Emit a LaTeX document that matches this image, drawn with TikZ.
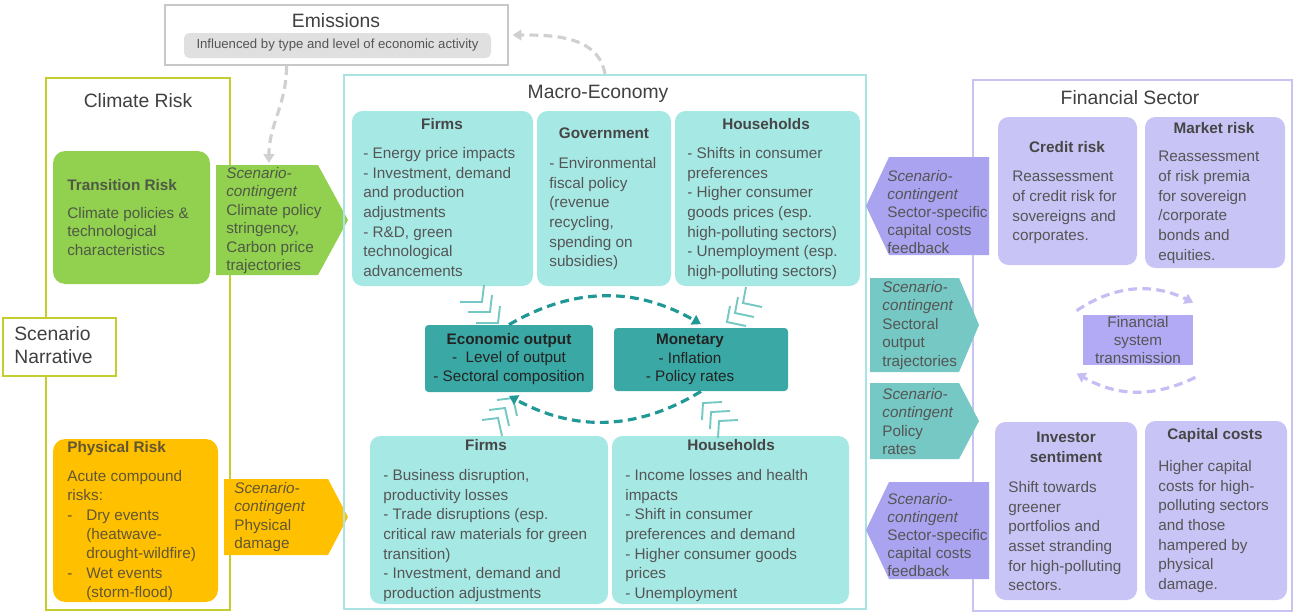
\documentclass[tikz,border=0pt]{standalone}
\usepackage{fontspec}
\setmainfont{Liberation Sans}
\usepackage{tikz}
\usetikzlibrary{fit}
\usetikzlibrary{positioning}
\usetikzlibrary{arrows.meta}
\definecolor{emframe}{RGB}{200,200,200}
\definecolor{emfill}{RGB}{224,224,224}
\definecolor{emdash}{RGB}{208,208,208}
\definecolor{crframe}{RGB}{196,205,45}
\definecolor{trgreen}{RGB}{146,208,80}
\definecolor{trtext}{RGB}{78,90,68}
\definecolor{phorange}{RGB}{255,192,0}
\definecolor{phtext}{RGB}{98,86,52}
\definecolor{meframe}{RGB}{170,228,226}
\definecolor{mebox}{RGB}{166,232,228}
\definecolor{medark}{RGB}{58,168,164}
\definecolor{meteal}{RGB}{117,200,195}
\definecolor{dkteal}{RGB}{32,152,150}
\definecolor{fsframe}{RGB}{200,196,242}
\definecolor{fsbox}{RGB}{200,196,246}
\definecolor{fsarrow}{RGB}{170,163,240}
\definecolor{fstrans}{RGB}{178,170,244}
\definecolor{fsdash}{RGB}{196,190,245}
\definecolor{txtgray}{RGB}{85,85,85}
\definecolor{hdgray}{RGB}{70,70,70}
\definecolor{ttlgray}{RGB}{64,64,64}
\definecolor{dktext}{RGB}{35,35,35}

\begin{document}
\begin{tikzpicture}[x=0.02cm,y=-0.02cm,
  frame/.style = {draw,line width=1.2pt,inner sep=0pt},
  cbox/.style = {fill=mebox,rounded corners=6pt,inner sep=0pt},
  dbox/.style = {fill=medark,rounded corners=2pt,inner sep=0pt},
  ttl/.style = {font=\fontsize{11}{13}\selectfont,text=ttlgray,inner sep=0pt},
  txt/.style = {font=\fontsize{8.7}{11.2}\selectfont,text=txtgray,align=left,
        anchor=north west,inner sep=0pt},
  tight/.style = {txt,font=\fontsize{8.7}{10.5}\selectfont},
  hd/.style = {font=\fontsize{8.7}{11.2}\selectfont\bfseries,text=hdgray,inner sep=0pt},
  flow/.style = {line width=1.8pt,dash pattern=on 5pt off 3pt,
        -{Triangle[length=5pt,width=6pt]}},
  chev/.style = {draw=meteal,line width=1.1pt}]
 \useasboundingbox (0,0) rectangle (1295,613);

 \node[frame,draw=emframe,fill=white,fit={(165,5)(508,65)}] (emis) {};
 \node[ttl] (emisT) at (336,21) {Emissions};
 \node[fill=emfill,rounded corners=3pt,inner sep=0pt,fit={(184,33)(491,58)}] (emisB) {};
 \node[font=\fontsize{7.5}{9}\selectfont,text=txtgray,inner sep=0pt] (emisL) at (emisB) {Influenced by type and level of economic activity};

 \node[frame,draw=crframe,line width=1.5pt,fit={(46,78)(230,610)}] (clim) {};
 \node[ttl] (climT) at (138,101) {Climate Risk};
 \node[cbox,fill=trgreen,rounded corners=7pt,fit={(53,151)(210,284)}] (trans) {};
 \node[hd,text=trtext,anchor=west] (transH) at (67,185) {Transition Risk};
 \node[tight,text=trtext] (transL) at (67,207) {Climate policies \&\\technological\\characteristics};
 \fill[trgreen] (216,165) -- (318,165) -- (348,220) -- (318,275) -- (216,275) -- cycle;
 \node[tight,text=trtext] (trArr) at (226,167) {\textit{Scenario-}\\\textit{contingent}\\Climate policy\\stringency,\\Carbon price\\trajectories};

 \node[frame,draw=crframe,line width=1.5pt,fill=white,fit={(3,318)(116,376)}] (narr) {};
 \node[ttl,align=left,anchor=north west] (narrT) at (14,326) {Scenario\\Narrative};

 \node[cbox,fill=phorange,rounded corners=7pt,fit={(53,439)(218,602)}] (phys) {};
 \node[hd,text=phtext,anchor=west] (physH) at (67,449) {Physical Risk};
 \node[txt,text=phtext,font=\fontsize{8.7}{11}\selectfont] (physL) at (67,470) {Acute compound\\risks:\\\makebox[10.8pt][l]{-}Dry events\\\hspace*{10.8pt}(heatwave-\\\hspace*{10.8pt}drought-wildfire)\\\makebox[10.8pt][l]{-}Wet events\\\hspace*{10.8pt}(storm-flood)};
 \fill[phorange] (224,479) -- (328,479) -- (348,517) -- (328,555) -- (224,555) -- cycle;
 \node[tight,text=phtext] (phArr) at (234,482) {\textit{Scenario-}\\\textit{contingent}\\Physical\\damage};

 \node[frame,draw=meframe,fit={(344,75)(866,609)}] (macro) {};
 \node[ttl] (macroT) at (598,94) {Macro-Economy};
 \node[cbox,fit={(352,111)(533,286)}] (firmsT) {};
 \node[cbox,fit={(537,111)(671,286)}] (govT) {};
 \node[cbox,fit={(675,111)(860,286)}] (hhT) {};
 \node[hd] (firmsTH) at (442,124) {Firms};
 \node[txt] (firmsTL) at (363,147) {- Energy price impacts\\- Investment, demand\\and production\\adjustments\\- R\&D, green\\technological\\advancements};
 \node[hd] (govTH) at (604,133) {Government};
 \node[txt] (govTL) at (549,157) {- Environmental\\fiscal policy\\(revenue\\recycling,\\spending on\\subsidies)};
 \node[hd] (hhTH) at (766,124) {Households};
 \node[txt] (hhTL) at (687,147) {- Shifts in consumer\\preferences\\- Higher consumer\\goods prices (esp.\\high-polluting sectors)\\- Unemployment (esp.\\high-polluting sectors)};

 \node[dbox,fit={(425,325)(593,392)}] (econ) {};
 \node[tight,anchor=north,align=center,text=dktext] (econL) at (509,333) {\textbf{Economic output}\\-\ \ Level of output\\- Sectoral composition};
 \node[dbox,fit={(614,328)(788,391)}] (mon) {};
 \node[tight,anchor=north,align=center,text=dktext] (monL) at (690,334) {\textbf{Monetary}\\- Inflation\\- Policy rates};

 \node[cbox,fit={(370,436)(608,604)}] (firmsB) {};
 \node[cbox,fit={(612,436)(849,604)}] (hhB) {};
 \node[hd] (firmsBH) at (486,445) {Firms};
 \node[txt] (firmsBL) at (383,469) {- Business disruption,\\productivity losses\\- Trade disruptions (esp.\\critical raw materials for green\\transition)\\- Investment, demand and\\production adjustments};
 \node[hd] (hhBH) at (731,445) {Households};
 \node[txt] (hhBL) at (625,469) {- Income losses and health\\impacts\\- Shift in consumer\\preferences and demand\\- Higher consumer goods\\prices\\- Unemployment};

 \foreach \cx/\cy in {482/302,490/312,498/323}
  \draw[chev] (\cx-22,\cy) -- (\cx,\cy) -- (\cx+2,\cy-17);
 \foreach \cx/\cy in {743/303,735/313,727/322}
  \draw[chev] (\cx+3,\cy-16) -- (\cx,\cy) -- (\cx+19,\cy+4);
 \foreach \cx/\cy in {513/398,505/408,498/418}
  \draw[chev] (\cx-16,\cy+2) -- (\cx,\cy) -- (\cx+4,\cy+18);
 \foreach \cx/\cy in {703/403,711/412,719/421}
  \draw[chev] (\cx+19,\cy-1) -- (\cx,\cy) -- (\cx-1,\cy+17);

 \node[frame,draw=fsframe,fit={(973,80)(1292,611)}] (fin) {};
 \node[ttl] (finT) at (1130,98) {Financial Sector};
 \node[cbox,fill=fsbox,fit={(998,117)(1137,265)}] (cred) {};
 \node[hd] (credH) at (1067,147) {Credit risk};
 \node[txt] (credL) at (1012,171) {Reassessment\\of credit risk for\\sovereigns and\\corporates.};
 \node[cbox,fill=fsbox,fit={(1145,117)(1285,268)}] (mkt) {};
 \node[hd] (mktH) at (1214,128) {Market risk};
 \node[txt] (mktL) at (1158,151) {Reassessment\\of risk premia\\for sovereign\\/corporate\\bonds and\\equities.};
 \node[fill=fstrans,inner sep=0pt,fit={(1083,315)(1193,365)}] (fstr) {};
 \node[txt,anchor=center,align=center,font=\fontsize{8.7}{10}\selectfont] (fstrL) at (fstr) {Financial\\system\\transmission};
 \node[cbox,fill=fsbox,fit={(995,422)(1137,600)}] (inv) {};
 \node[hd,align=center] (invH) at (1066,447) {Investor\\sentiment};
 \node[txt] (invL) at (1008,481) {Shift towards\\greener\\portfolios and\\asset stranding\\for high-polluting\\sectors.};
 \node[cbox,fill=fsbox,fit={(1145,421)(1287,600)}] (cap) {};
 \node[hd] (capH) at (1215,436) {Capital costs};
 \node[txt] (capL) at (1158,460) {Higher capital\\costs for high-\\polluting sectors\\and those\\hampered by\\physical\\damage.};

 \fill[fsarrow] (866,206) -- (889,157) -- (989,157) -- (989,255) -- (889,255) -- cycle;
 \node[tight,font=\fontsize{8.7}{10.2}\selectfont] (fbTop) at (887,170) {\textit{Scenario-}\\\textit{contingent}\\Sector-specific\\capital costs\\feedback};
 \fill[meteal] (870,278) -- (959,278) -- (979,325) -- (959,372) -- (870,372) -- cycle;
 \node[tight] (sectArr) at (882,281) {\textit{Scenario-}\\\textit{contingent}\\Sectoral\\output\\trajectories};
 \fill[meteal] (870,383) -- (959,383) -- (979,421) -- (959,459) -- (870,459) -- cycle;
 \node[tight] (polArr) at (882,388) {\textit{Scenario-}\\\textit{contingent}\\Policy\\rates};
 \fill[fsarrow] (866,530) -- (889,482) -- (989,482) -- (989,579) -- (889,579) -- cycle;
 \node[tight,font=\fontsize{8.7}{10.2}\selectfont] (fbBot) at (887,493) {\textit{Scenario-}\\\textit{contingent}\\Sector-specific\\capital costs\\feedback};

 \begin{scope}[flow]
  \draw[emdash] ([shift={(-50,0)}]emis.south) to[out=-90,in=90] ([shift={(-5,-4)}]trArr.north);
  \draw[emdash] (macro.north) to[out=100,in=0] ([xshift=2pt]emis.east);
  \draw[dkteal] (econ.north) to[bend left=30] ([yshift=2pt]mon.north);
  \draw[dkteal] (mon.south) to[bend left=30] ([yshift=-2pt]econ.south);
  \draw[fsdash] ([shift={(-6,-4)}]fstr.north west) to[bend left=30] ([shift={(0,-12)}]fstr.north east);
  \draw[fsdash] ([shift={(2,12)}]fstr.south east) to[bend left=28] ([shift={(-6,8)}]fstr.south west);
 \end{scope}
\end{tikzpicture}
\end{document}
